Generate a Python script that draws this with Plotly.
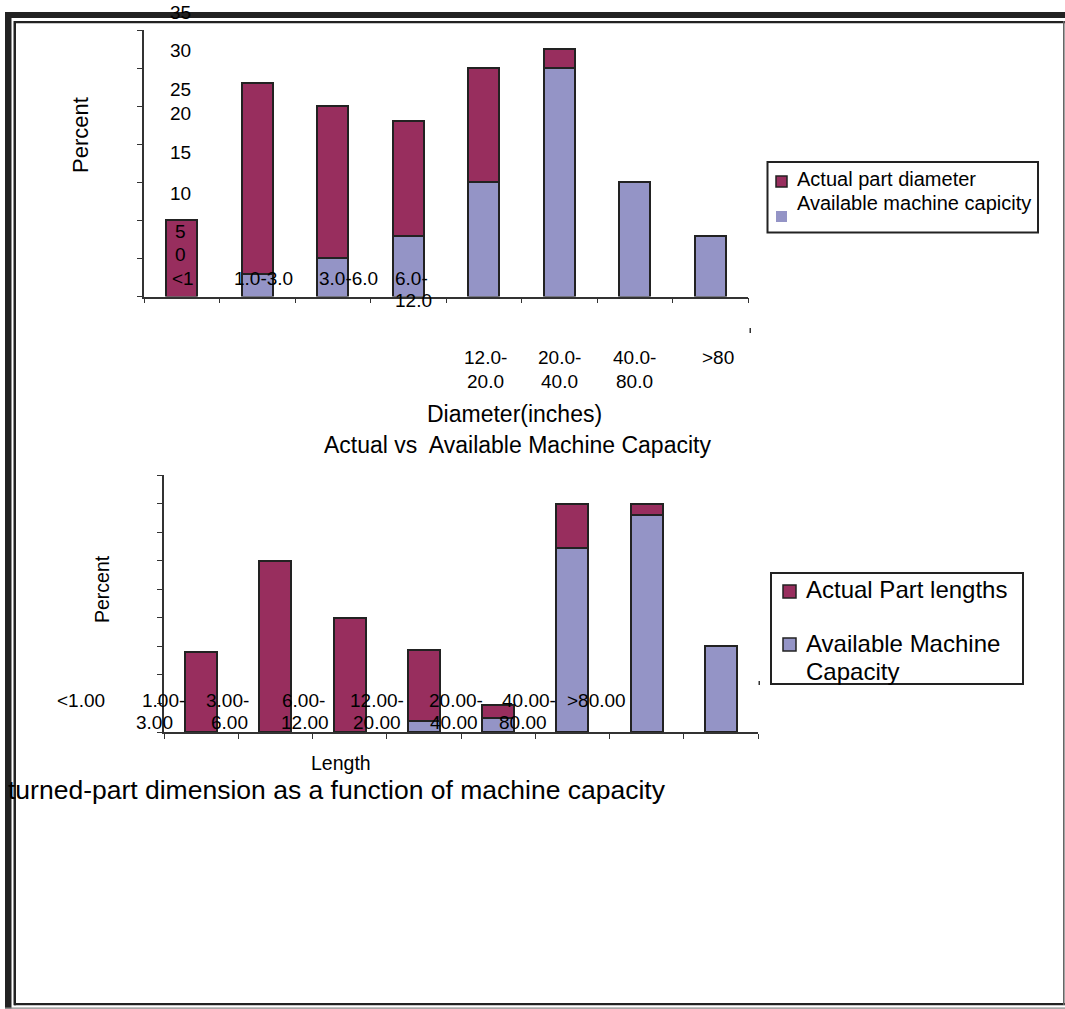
import plotly.graph_objects as go

W, H = 1065, 1009
FONT = "Liberation Sans, Arial, sans-serif"

# ---- data -----------------------------------------------------------
diam_cats = ["<1", "1.0-3.0", "3.0-6.0", "6.0-12.0", "12.0-20.0", "20.0-40.0", "40.0-80.0", ">80"]
diam_actual = [10, 25, 20, 15, 15, 2.5, 0, 0]
diam_available = [0, 3, 5, 8, 15, 30, 15, 8]
diam_yticks = ["35", "30", "25", "20", "15", "10", "5", "0"]

len_cats = ["<1.00", "1.00-3.00", "3.00-6.00", "6.00-12.00", "12.00-20.00", "20.00-40.00", "40.00-80.00", ">80.00"]
len_actual = [14, 30, 20, 12.3, 2.3, 7.7, 2, 0]
len_available = [0, 0, 0, 2, 2.5, 32.3, 38, 15]

RED = "#982E5E"
BLUE = "#9494C6"
EDGE = "#222222"


def px(x):
    return x / W


def py(y):
    return 1 - y / H


def nz(vals):
    # zero-height bars are simply not drawn
    return [v if v else None for v in vals]


fig = go.Figure()

bar_line = dict(color=EDGE, width=2)

# top chart (diameter)
fig.add_trace(go.Bar(x=diam_cats, y=nz(diam_available), name="Available machine capicity",
                     marker=dict(color=BLUE, line=bar_line),
                     width=0.41, xaxis="x", yaxis="y", showlegend=False))
fig.add_trace(go.Bar(x=diam_cats, y=nz(diam_actual), name="Actual part diameter",
                     marker=dict(color=RED, line=bar_line),
                     width=0.41, xaxis="x", yaxis="y", showlegend=False))

# bottom chart (length)
fig.add_trace(go.Bar(x=len_cats, y=nz(len_available), name="Available Machine Capacity",
                     marker=dict(color=BLUE, line=bar_line),
                     width=0.43, xaxis="x2", yaxis="y2", showlegend=False))
fig.add_trace(go.Bar(x=len_cats, y=nz(len_actual), name="Actual Part lengths",
                     marker=dict(color=RED, line=bar_line),
                     width=0.43, xaxis="x2", yaxis="y2", showlegend=False))

axis_common = dict(showgrid=False, zeroline=False, showline=True, linecolor="#333333",
                   linewidth=1.5, ticks="outside", ticklen=5, tickcolor="#333333",
                   showticklabels=False, fixedrange=True)

fig.update_layout(
    width=W, height=H,
    margin=dict(l=0, r=0, t=0, b=0),
    paper_bgcolor="white", plot_bgcolor="white",
    barmode="stack", bargap=0,
    font=dict(family=FONT, color="black"),
    xaxis=dict(domain=[px(144), px(748)], anchor="y", type="category",
               categoryorder="array", categoryarray=diam_cats,
               range=[-0.5, 7.5], tickson="boundaries", **axis_common),
    yaxis=dict(domain=[py(296.5), py(30)], anchor="x", range=[0, 35], dtick=5, **axis_common),
    xaxis2=dict(domain=[px(164), px(758)], anchor="y2", type="category",
                categoryorder="array", categoryarray=len_cats,
                range=[-0.5, 7.5], tickson="boundaries", **axis_common),
    yaxis2=dict(domain=[py(732), py(475)], anchor="x2", range=[0, 45], dtick=5, **axis_common),
)

ann = []


def text(x, y, s, size, xanchor="center", angle=0):
    ann.append(dict(x=px(x), y=py(y), xref="paper", yref="paper", text=s, showarrow=False,
                    xanchor=xanchor, yanchor="middle", textangle=angle,
                    font=dict(size=size, family=FONT, color="black")))


# misplaced tick labels of the top chart, as in the scanned original
ytick_pos = [12, 50, 90, 113, 153, 193, 232, 255]
for s, y in zip(diam_yticks, ytick_pos):
    text(180, y, s, 19)

text(183, 278, diam_cats[0], 19)
text(263, 278, diam_cats[1], 19)
text(348, 278, diam_cats[2], 19)
text(393, 278, diam_cats[3].split("-")[0] + "-", 19, xanchor="left")
text(393, 301, diam_cats[3].split("-")[1], 19, xanchor="left")
for cat, x in zip(diam_cats[4:7], [485, 559, 634]):
    a, b = cat.split("-")
    text(x, 357, a + "-", 19)
    text(x, 381, b, 19)
text(718, 357, diam_cats[7], 19)

text(80, 135, "Percent", 22, angle=-90)
text(514, 414, "Diameter(inches)", 23)
text(517, 445, "Actual vs  Available Machine Capacity", 23)

# bottom chart labels
text(81, 700, len_cats[0], 19)
row1 = [163, 227, 303, 377, 456, 529]
row2 = [154, 229, 305, 377, 454, 523]
for cat, x1, x2 in zip(len_cats[1:7], row1, row2):
    a, b = cat.split("-")
    text(x1, 700, a + "-", 19)
    text(x2, 722, b, 19)
text(596, 700, len_cats[7], 19)

text(102, 589, "Percent", 19.5, angle=-90)
text(341, 763, "Length", 19.5)
text(6, 790, "turned-part dimension as a function of machine capacity", 26.5, xanchor="left")

# legends
text(795, 179, "Actual part diameter", 20, xanchor="left")
text(795, 203, "Available machine capicity", 20, xanchor="left")
text(804, 589, "Actual Part lengths", 24, xanchor="left")
text(804, 643, "Available Machine", 24, xanchor="left")
text(804, 671, "Capacity", 24, xanchor="left")

fig.update_layout(annotations=ann)

shapes = []


def rect(x0, y0, x1, y1, fill=None, line_color=None, lw=0):
    shapes.append(dict(type="rect", xref="paper", yref="paper",
                       x0=px(x0), x1=px(x1), y0=py(y1), y1=py(y0),
                       fillcolor=fill or "rgba(0,0,0,0)",
                       line=dict(color=line_color or "rgba(0,0,0,0)", width=lw)))


# legend boxes and swatches
rect(767.5, 162, 1038, 232.5, line_color=EDGE, lw=2)
rect(776, 176, 787, 187, fill=RED, line_color=EDGE, lw=1.5)
rect(776, 211, 787, 222, fill=BLUE)
rect(771, 573, 1023, 684, line_color=EDGE, lw=2)
rect(783, 585, 796, 598, fill=RED, line_color=EDGE, lw=1.5)
rect(783, 638, 796, 651, fill=BLUE, line_color=EDGE, lw=1.5)

# stray marks
rect(749.5, 328, 751, 333, fill="#333333")
rect(758.5, 681, 760, 685, fill="#333333")

# page frame
rect(5, 12, W, 18, fill="#222222")
rect(14, 21, W, 23.3, fill="#222222")
rect(5, 12, 11.5, 1008.5, fill="#222222")
rect(13.5, 21, 16, 1005.3, fill="#222222")
rect(14, 1003, W, 1005.3, fill="#222222")
rect(1063, 21, 1064.6, 1005, fill="#666666")
rect(5, 1007.5, W, 1008.7, fill="#888888")

fig.update_layout(shapes=shapes)

fig.write_html("out.html", config={"displayModeBar": False},
               post_script="document.body.style.margin='0';document.body.style.overflow='hidden';")
